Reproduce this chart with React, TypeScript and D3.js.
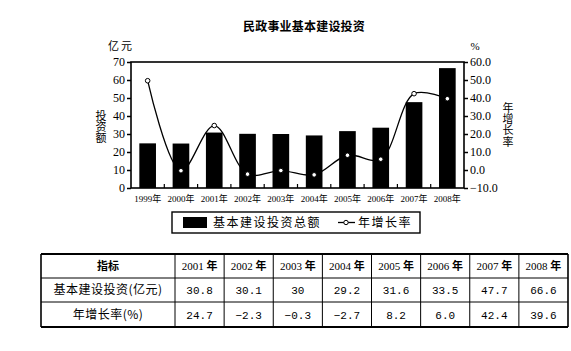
import React, { useEffect, useRef } from 'react';
import * as d3 from 'd3';

// chart data
const years = ['1999', '2000', '2001', '2002', '2003', '2004', '2005', '2006', '2007', '2008'];
const investment = [24.8, 24.7, 30.8, 30.1, 30, 29.2, 31.6, 33.5, 47.7, 66.6];
const growthRate = [49.6, -0.4, 24.7, -2.3, -0.3, -2.7, 8.2, 6.0, 42.4, 39.6];
const leftTicks = [0, 10, 20, 30, 40, 50, 60, 70];
const rightTicks = [-10, 0, 10, 20, 30, 40, 50, 60];

// table data
const tableYears = ['2001 年', '2002 年', '2003 年', '2004 年', '2005 年', '2006 年', '2007 年', '2008 年'];
const tableInvest = ['30.8', '30.1', '30', '29.2', '31.6', '33.5', '47.7', '66.6'];
const tableGrowth = ['24.7', '−2.3', '−0.3', '−2.7', '8.2', '6.0', '42.4', '39.6'];

const SERIF = "'Liberation Serif','DejaVu Serif','Noto Sans CJK SC',serif";
const CJK = "'Noto Sans CJK SC',sans-serif";
const MONO = "'Liberation Mono','DejaVu Sans Mono',monospace";

const App = () => {
  const leftRef = useRef<SVGGElement>(null);
  const rightRef = useRef<SVGGElement>(null);
  const bottomRef = useRef<SVGGElement>(null);

  const left = 131, right = 464, top = 62, bottom = 188;

  const x = d3.scaleBand().domain(years).range([left, right]).paddingInner(0.5).paddingOuter(0.25);
  const yL = d3.scaleLinear().domain([0, 70]).range([bottom, top]);
  const yR = d3.scaleLinear().domain([-10, 60]).range([bottom, top]);

  const line = d3.line<number>()
    .x((d, i) => (x(years[i]) as number) + x.bandwidth() / 2)
    .y(d => yR(d))
    .curve(d3.curveCatmullRom.alpha(0.5));

  useEffect(() => {
    const gl = d3.select(leftRef.current);
    gl.selectAll('*').remove();
    gl.call(d3.axisLeft(yL).tickValues(leftTicks).tickSize(4).tickPadding(2).tickFormat(d3.format('d')) as any);
    gl.select('.domain').remove();
    gl.selectAll('line').attr('stroke', '#000').attr('stroke-width', 1.5);
    gl.selectAll('text').attr('font-family', SERIF).attr('font-size', 12).attr('fill', '#000');

    const gr = d3.select(rightRef.current);
    gr.selectAll('*').remove();
    gr.call(d3.axisRight(yR).tickValues(rightTicks).tickSize(4).tickPadding(2).tickFormat(d3.format('.1f')) as any);
    gr.select('.domain').remove();
    gr.selectAll('line').attr('stroke', '#000').attr('stroke-width', 1.5);
    gr.selectAll('text').attr('font-family', SERIF).attr('font-size', 12).attr('fill', '#000');

    // ticks between the bars, pointing up
    const gb = d3.select(bottomRef.current);
    gb.selectAll('*').remove();
    const step = x.step();
    const bounds = years.slice(1).map(yr => (x(yr) as number) - (step - x.bandwidth()) / 2);
    gb.selectAll('line.tk').data(bounds).enter().append('line')
      .attr('class', 'tk')
      .attr('x1', d => d).attr('x2', d => d)
      .attr('y1', bottom).attr('y2', bottom - 4)
      .attr('stroke', '#000').attr('stroke-width', 1.2);
    gb.selectAll('text.yr').data(years).enter().append('text')
      .attr('class', 'yr')
      .attr('x', d => (x(d) as number) + x.bandwidth() / 2)
      .attr('y', bottom + 14)
      .attr('text-anchor', 'middle')
      .attr('font-family', SERIF)
      .attr('font-size', 9)
      .text(d => d + '年');
  }, []);

  const col = d3.scaleBand().domain(tableYears).range([175, 568]);
  const rows = [254, 278, 302, 327];

  return (
    <svg width={571} height={351} style={{ position: 'absolute', left: 0, top: 0, background: '#fff' }}>
      <text x={304} y={31} textAnchor="middle" fontFamily={CJK} fontWeight="bold" fontSize={12} letterSpacing={0.2}>
        民政事业基本建设投资
      </text>
      <text x={121} y={50} textAnchor="middle" fontFamily={CJK} fontSize={11} letterSpacing={2}>亿元</text>
      <text x={475} y={50} textAnchor="middle" fontFamily={SERIF} fontSize={11}>%</text>
      <text x={101} y={110} fontFamily={CJK} fontSize={11} style={{ writingMode: 'vertical-rl' }}>投资额</text>
      <text x={508} y={102} fontFamily={CJK} fontSize={11} letterSpacing={0.3} style={{ writingMode: 'vertical-rl' }}>年增长率</text>

      {investment.map((v, i) => (
        <rect key={years[i]} x={x(years[i])} y={yL(v)} width={x.bandwidth()} height={yL(0) - yL(v)} fill="#000" />
      ))}

      <path d={line(growthRate) || ''} fill="none" stroke="#000" strokeWidth={1.3} />
      {growthRate.map((v, i) => (
        <circle key={years[i]} cx={(x(years[i]) as number) + x.bandwidth() / 2} cy={yR(v)} r={2.3}
          fill="#fff" stroke="#000" strokeWidth={1} />
      ))}

      <rect x={left} y={top} width={right - left} height={bottom - top} fill="none" stroke="#000" strokeWidth={1.6} />
      <g ref={leftRef} transform={`translate(${left},0)`} />
      <g ref={rightRef} transform={`translate(${right},0)`} />
      <g ref={bottomRef} />

      {/* legend */}
      <rect x={172} y={212} width={248} height={21} fill="none" stroke="#000" strokeWidth={1.4} />
      <rect x={183} y={217} width={24} height={11} fill="#000" />
      <text x={213} y={227} fontFamily={CJK} fontSize={12} letterSpacing={1.5}>基本建设投资总额</text>
      <line x1={338} x2={355} y1={222.5} y2={222.5} stroke="#000" strokeWidth={1.3} />
      <circle cx={346} cy={222.5} r={2.2} fill="#fff" stroke="#000" strokeWidth={1} />
      <text x={358} y={227} fontFamily={CJK} fontSize={12} letterSpacing={1.5}>年增长率</text>

      {/* table */}
      <g>
        {rows.map((ry, i) => (
          <line key={'h' + i} x1={41} x2={568} y1={ry} y2={ry} stroke="#000"
            strokeWidth={i === 0 || i === rows.length - 1 ? 1.8 : 1} />
        ))}
        <line x1={41} x2={41} y1={rows[0]} y2={rows[3]} stroke="#000" strokeWidth={1.6} />
        <line x1={175} x2={175} y1={rows[0]} y2={rows[3]} stroke="#000" strokeWidth={1} />
        {tableYears.map((yr, i) => (
          <line key={'v' + yr} x1={(col(yr) as number) + col.bandwidth()} x2={(col(yr) as number) + col.bandwidth()}
            y1={rows[0]} y2={rows[3]} stroke="#000" strokeWidth={i === tableYears.length - 1 ? 1.6 : 1} />
        ))}
        <text x={108} y={270} textAnchor="middle" fontFamily={CJK} fontWeight="bold" fontSize={11}>指标</text>
        <text x={108} y={294} textAnchor="middle" fontFamily={CJK} fontSize={12} letterSpacing={0.5}>基本建设投资(亿元)</text>
        <text x={108} y={319} textAnchor="middle" fontFamily={CJK} fontSize={12} letterSpacing={0.5}>年增长率(%)</text>
        {tableYears.map((yr, i) => {
          const cx = (col(yr) as number) + col.bandwidth() / 2;
          return (
            <g key={'c' + yr}>
              <text x={cx} y={270} textAnchor="middle" fontSize={11}>
                <tspan fontFamily={SERIF}>{yr.split(' ')[0] + ' '}</tspan>
                <tspan fontFamily={CJK} fontWeight="bold">年</tspan>
              </text>
              <text x={cx} y={294} textAnchor="middle" fontFamily={MONO} fontSize={11}>{tableInvest[i]}</text>
              <text x={cx} y={319} textAnchor="middle" fontFamily={MONO} fontSize={11}>{tableGrowth[i]}</text>
            </g>
          );
        })}
      </g>
    </svg>
  );
};

export default App;
